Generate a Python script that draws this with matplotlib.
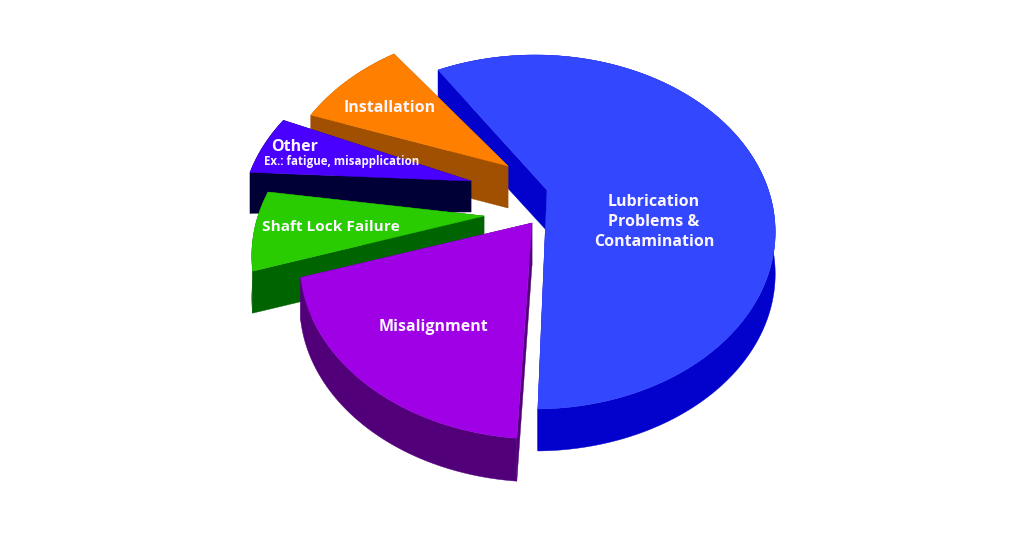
import numpy as np
import matplotlib
matplotlib.use("Agg")
import matplotlib.pyplot as plt

# ---- data (share of bearing failures, percent)
categories = ["Lubrication Problems & Contamination", "Misalignment", "Shaft Lock Failure", "Other", "Installation"]
values = [58.1, 18.8, 7.3, 5.6, 9.1]

# ---- style / layout of each exploded slice
start_deg = [-119.7, 94.4, 162.2, 183.0, 199.0]
centers = [(535, 232), (540, 262), (492, 256), (481, 221), (517, 206)]
apex_nudge = [(12, -2), (-8, 1), (-8, 0), (-10, 0), (-9, 0)]
apex_depth = [41, 42, 42, 31, 42]
rim_depth = [42, 43, 42, 41, 42]
top_colors = ["#3347FF", "#A000E6", "#28CC00", "#4A00FF", "#FF8000"]
side_colors = ["#0202CC", "#52007A", "#006400", "#000036", "#A05000"]
draw_order = [0, 4, 3, 2, 1]

# projective view of the pie disc
A, B, C, K = 234.0, 177.0, -40.0, -0.226


def project(deg):
    t = np.radians(deg)
    u, v = np.cos(t), np.sin(t)
    w = 1 + K * v
    return A * u / w, (B * v + C) / w


fig = plt.figure(figsize=(10.24, 5.36), dpi=100, facecolor="white")
ax = fig.add_axes([0, 0, 1, 1])
ax.set_xlim(0, 1024)
ax.set_ylim(536, 0)
ax.axis("off")

for i in draw_order:
    span = values[i] * 3.6
    deg = np.linspace(start_deg[i], start_deg[i] + span, 200)
    px, py = project(deg)
    cx, cy = centers[i]
    rx, ry = cx + px, cy + py
    ax_, ay_ = cx + apex_nudge[i][0], cy + C + apex_nudge[i][1]
    d_r, d_a = rim_depth[i], apex_depth[i]
    side = side_colors[i]
    z = draw_order.index(i) * 2
    # cylinder wall
    ax.fill(np.r_[rx, rx[::-1]], np.r_[ry, ry[::-1] + d_r], color=side, lw=0.3, zorder=1 + z)
    # two cut faces
    for j in (0, -1):
        ax.fill([rx[j], ax_, ax_, rx[j]], [ry[j], ay_, ay_ + d_a, ry[j] + d_r],
                color=side, lw=0.3, zorder=1 + z)
    # top face
    ax.fill(np.r_[ax_, rx], np.r_[ay_, ry], color=top_colors[i], lw=0.3, zorder=2 + z)

font = dict(family="Open Sans", weight="bold", color="#FBF6FF", zorder=30, va="center")
ax.text(654, 202, "Lubrication", ha="center", fontsize=11.5, **font)
ax.text(654, 222, "Problems &", ha="center", fontsize=11.5, **font)
ax.text(654, 242, "Contamination", ha="center", fontsize=11.5, **font)
ax.text(433, 327, "Misalignment", ha="center", fontsize=11.5, **font)
ax.text(331, 227, "Shaft Lock Failure", ha="center", fontsize=11.1, **font)
ax.text(390, 108, "Installation", ha="center", fontsize=11.5, **font)
ax.text(271, 147, "Other", ha="left", fontsize=11.5, **font)
ax.text(264, 161, "Ex.: fatigue, misapplication", ha="left", fontsize=8.3, **font)

fig.savefig("out.png", dpi=100, facecolor="white")
